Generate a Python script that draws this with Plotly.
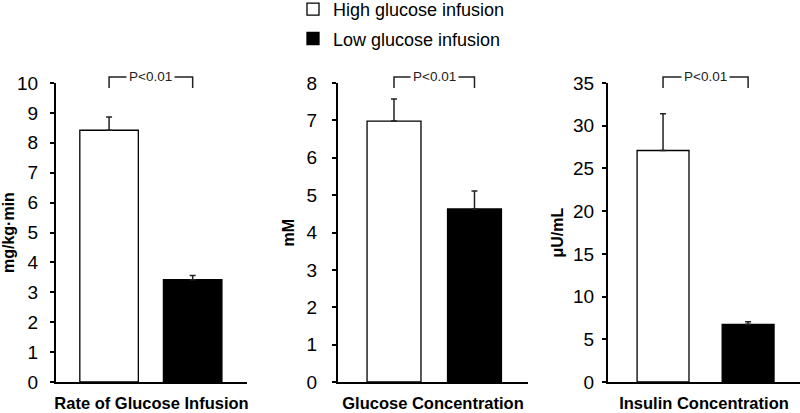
import plotly.graph_objects as go

# ---- data ----
groups = ["High glucose infusion", "Low glucose infusion"]
panel_titles = ["Rate of Glucose Infusion", "Glucose Concentration", "Insulin Concentration"]
y_titles = ["mg/kg·min", "mM", "μU/mL"]
means_rate = [8.42, 3.42]
sem_rate = [0.44, 0.14]
means_glucose = [6.98, 4.63]
sem_glucose = [0.59, 0.48]
means_insulin = [27.1, 6.75]
sem_insulin = [4.3, 0.3]
y_max = [10, 8, 35]
y_dtick = [1, 1, 5]
p_label = "P<0.01"

means = [means_rate, means_glucose, means_insulin]
sems = [sem_rate, sem_glucose, sem_insulin]

# ---- layout geometry (pixels, 800x413) ----
W, H = 800, 413
x_dom_px = [(56, 247), (338, 528), (608, 800)]
x_ranges = [(-0.635, 1.65), (-0.696, 1.665), (-0.647, 1.61)]
bar_widths = [0.70, 0.67, 0.61]
label_standoff = [8, 11, 4]
ytitle_x_px = [8.5, 288, 557]
y_dom = [(H - 382) / H, (H - 83) / H]

fills = ["white", "black"]
FONT = "Liberation Sans, Arial, sans-serif"

fig = go.Figure()
for p in range(3):
    xa = "x" if p == 0 else f"x{p+1}"
    ya = "y" if p == 0 else f"y{p+1}"
    for g in range(2):
        fig.add_trace(go.Bar(
            x=[g], y=[means[p][g]],
            width=bar_widths[p],
            name=groups[g],
            marker=dict(color=fills[g], line=dict(color="black", width=1.3)),
            error_y=dict(type="data", symmetric=False, array=[sems[p][g]], arrayminus=[0],
                         color="#222", thickness=1.5, width=3),
            xaxis=xa, yaxis=ya,
            showlegend=(p == 0),
            legendgroup=groups[g],
        ))

layout = dict(
    width=W, height=H,
    margin=dict(l=0, r=0, t=0, b=0, autoexpand=False),
    paper_bgcolor="white", plot_bgcolor="white",
    barmode="overlay",
    font=dict(family=FONT, color="black"),
    showlegend=True,
    legend=dict(x=293 / W, y=1.022, xanchor="left", yanchor="top",
                font=dict(size=18, family=FONT), bgcolor="rgba(0,0,0,0)",
                tracegroupgap=3, itemwidth=30),
)

shapes = []
annotations = []
for p in range(3):
    sfx = "" if p == 0 else str(p + 1)
    layout["xaxis" + sfx] = dict(
        domain=[x_dom_px[p][0] / W, min(x_dom_px[p][1] / W, 1.0)],
        range=list(x_ranges[p]),
        anchor="y" + sfx,
        showline=True, linecolor="black", linewidth=2,
        showticklabels=False, ticks="", showgrid=False, zeroline=False,
        fixedrange=True,
        title=dict(text="<b>" + panel_titles[p] + "</b>", font=dict(size=16.5, family=FONT),
                   standoff=14),
        automargin=False,
    )
    layout["yaxis" + sfx] = dict(
        domain=list(y_dom),
        range=[0, y_max[p]],
        dtick=y_dtick[p], tick0=0,
        anchor="x" + sfx,
        showline=True, linecolor="black", linewidth=2,
        ticks="outside", ticklen=4, tickwidth=1.5, tickcolor="black",
        tickfont=dict(size=19, family=FONT),
        ticklabelstandoff=label_standoff[p],
        showgrid=False, zeroline=False, automargin=False, fixedrange=True,
    )
    annotations.append(dict(
        text="<b>" + y_titles[p] + "</b>", textangle=-90,
        x=ytitle_x_px[p] / W, y=(y_dom[0] + y_dom[1]) / 2,
        xref="paper", yref="paper", showarrow=False,
        font=dict(size=16, family=FONT), xanchor="center", yanchor="middle",
    ))
    # significance bracket between bar centres
    xr = "x" + sfx
    y_top = 1 - 77 / H
    y_low = 1 - 88 / H
    shapes.append(dict(
        type="path", xref=xr, yref="paper",
        path=f"M 0,{y_low} L 0,{y_top} L 1,{y_top} L 1,{y_low}",
        line=dict(color="#222", width=1.5),
    ))
    annotations.append(dict(
        text=p_label, x=0.5, y=y_top, xref=xr, yref="paper",
        showarrow=False, font=dict(size=13.5, family=FONT, color="#222"),
        bgcolor="white", xanchor="center", yanchor="middle", borderpad=2,
    ))

layout["shapes"] = shapes
layout["annotations"] = annotations
fig.update_layout(**layout)

fig.write_html(
    "out.html",
    config={"displayModeBar": False},
    post_script="document.body.style.margin='0';document.body.style.padding='0';document.body.style.overflow='hidden';",
)
